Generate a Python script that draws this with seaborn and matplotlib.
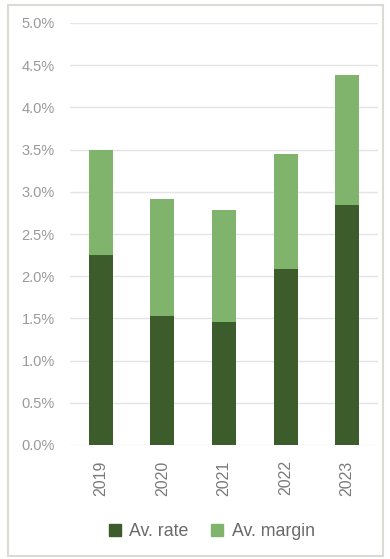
import matplotlib
matplotlib.use("Agg")
import matplotlib.pyplot as plt
from matplotlib.patches import Rectangle
from matplotlib.lines import Line2D
import seaborn as sns
import pandas as pd

years = ["2019", "2020", "2021", "2022", "2023"]
av_rate = [2.25, 1.53, 1.46, 2.08, 2.84]
av_margin = [1.25, 1.38, 1.32, 1.37, 1.54]
y_ticks = [0.0, 0.5, 1.0, 1.5, 2.0, 2.5, 3.0, 3.5, 4.0, 4.5, 5.0]

dark = "#3c5c2c"
light = "#80b46c"

df = pd.DataFrame({"year": years, "rate": av_rate, "margin": av_margin})
df["total"] = df["rate"] + df["margin"]

sns.set_theme(style="white")
plt.rcParams["font.family"] = ["Liberation Sans", "DejaVu Sans"]

fig = plt.figure(figsize=(3.9, 5.59), dpi=100)
ax = fig.add_axes([70 / 390, 1 - 445 / 559, 308 / 390, 422 / 559])

sns.barplot(data=df, x="year", y="total", color=light, width=0.39,
            saturation=1, linewidth=0, ax=ax, zorder=3)
sns.barplot(data=df, x="year", y="rate", color=dark, width=0.39,
            saturation=1, linewidth=0, ax=ax, zorder=4)

ax.set_ylim(0, 5.0)
ax.set_xlim(-0.5, 4.5)
ax.set_yticks(y_ticks)
ax.set_yticklabels([f"{v:.1f}%" for v in y_ticks])
ax.yaxis.grid(True, color="#e4e4e4", linewidth=1.0, zorder=0)
ax.set_axisbelow(True)
for s in ax.spines.values():
    s.set_visible(False)
ax.set_xlabel("")
ax.set_ylabel("")
ax.tick_params(axis="y", length=0, pad=11, labelsize=10.5, labelcolor="#9a9a9a")
ax.tick_params(axis="x", length=0, pad=11, labelsize=11.5, labelcolor="#7a7a7a",
               labelrotation=90)

handles = [
    Line2D([], [], marker="s", linestyle="none", markersize=9,
           markerfacecolor=dark, markeredgecolor=dark, label="Av. rate"),
    Line2D([], [], marker="s", linestyle="none", markersize=9,
           markerfacecolor=light, markeredgecolor=light, label="Av. margin"),
]
fig.legend(handles=handles, loc="center", bbox_to_anchor=(206 / 390, 1 - 532 / 559),
           ncol=2, frameon=False, fontsize=12.8, handletextpad=-0.2,
           columnspacing=0.6, labelcolor="#6a6a6a")

# light frame around the whole figure
fig.patches.append(Rectangle((8 / 390, 3 / 559), 375 / 390, 551 / 559,
                             transform=fig.transFigure, fill=False,
                             edgecolor="#dcdad4", linewidth=1.5))

fig.savefig("out.png", dpi=100)
